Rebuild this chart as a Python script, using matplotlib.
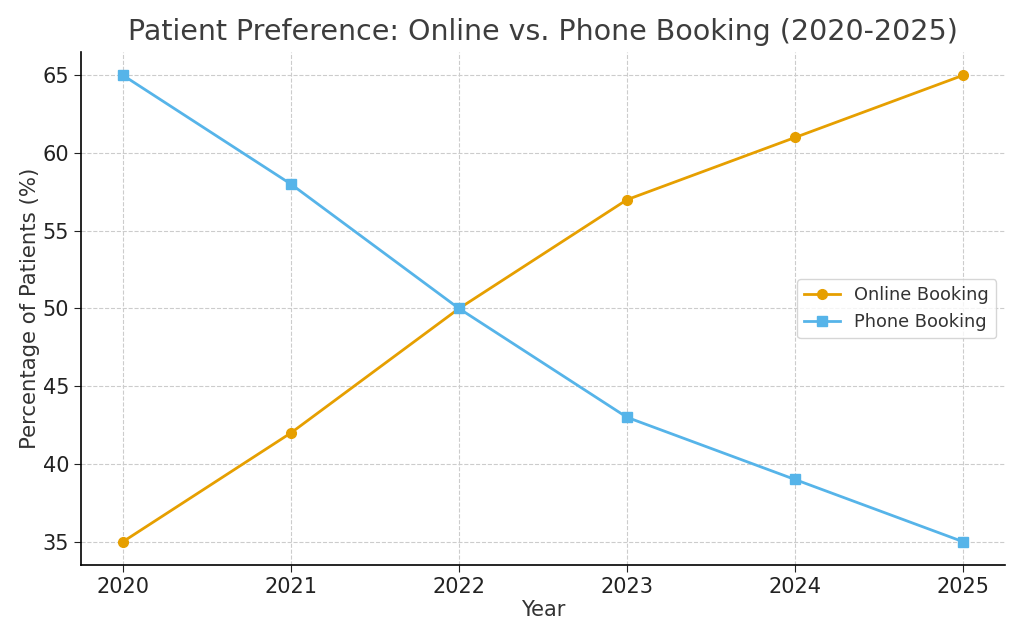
import matplotlib
matplotlib.use("Agg")
import matplotlib.pyplot as plt

years = [2020, 2021, 2022, 2023, 2024, 2025]
online = [35, 42, 50, 57, 61, 65]
phone = [65, 58, 50, 43, 39, 35]
yticks = [35, 40, 45, 50, 55, 60, 65]

fig = plt.figure(figsize=(10.24, 6.4), dpi=100)
ax = fig.add_axes([81/1024, 1-565/640, (1005-81)/1024, (565-52)/640])

ax.plot(years, online, color="#E69F00", marker="o", linewidth=2, markersize=7, label="Online Booking")
ax.plot(years, phone, color="#56B4E9", marker="s", linewidth=2, markersize=7, label="Phone Booking")

ax.set_title("Patient Preference: Online vs. Phone Booking (2020-2025)", fontsize=20.5, color="#3d3d3d", pad=9)
ax.set_xlabel("Year", fontsize=15, color="#333333", labelpad=2)
ax.set_ylabel("Percentage of Patients (%)", fontsize=15.3, color="#333333", labelpad=2)
ax.set_xticks(years)
ax.set_yticks(yticks)
ax.tick_params(labelsize=15, colors="#222222", length=5)
ax.set_xlim(2019.75, 2025.25)
ax.set_ylim(33.5, 66.5)
ax.grid(True, linestyle="--", color="#cccccc", linewidth=0.8)
for s in ["top", "right"]:
    ax.spines[s].set_visible(False)
ax.spines["left"].set_linewidth(1.2)
ax.spines["bottom"].set_linewidth(1.2)
leg = ax.legend(loc="center right", fontsize=12.8, labelcolor="#333333")

fig.savefig("out.png", dpi=100)
